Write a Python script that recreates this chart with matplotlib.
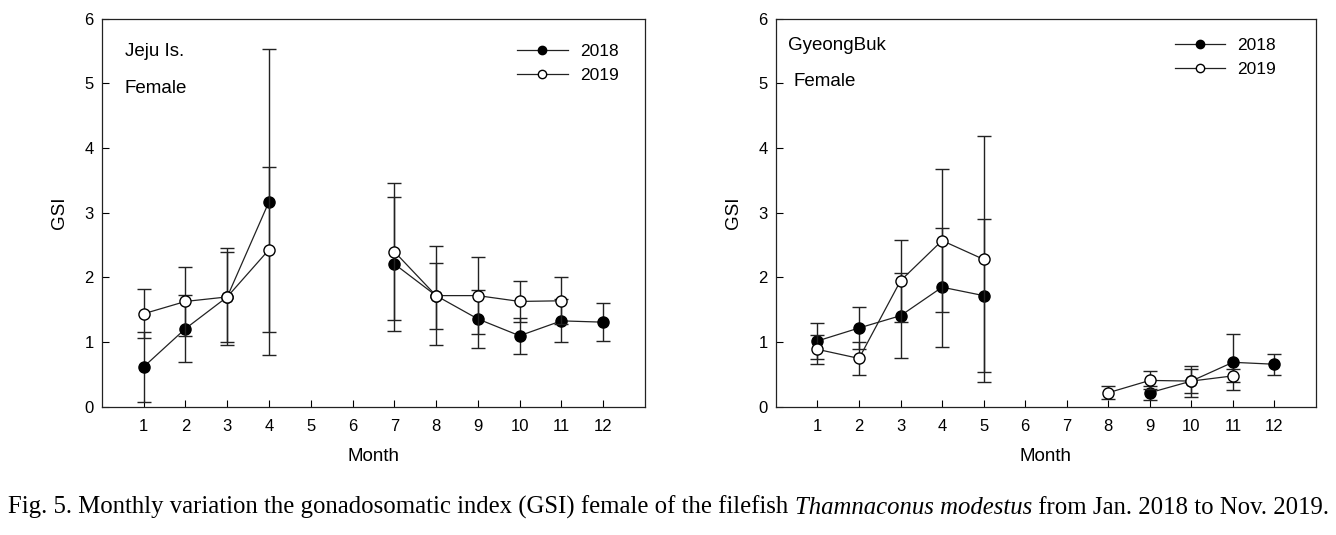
import matplotlib
matplotlib.use("Agg")
import matplotlib.pyplot as plt
from matplotlib.lines import Line2D

plt.rcParams['font.family'] = ['Liberation Sans', 'DejaVu Sans']

# Jeju Is. female GSI (mean, SD)
jeju_m18 = [1, 2, 3, 4, 7, 8, 9, 10, 11, 12]
jeju_gsi18 = [0.62, 1.21, 1.70, 3.17, 2.21, 1.72, 1.36, 1.10, 1.33, 1.31]
jeju_sd18 = [0.54, 0.52, 0.70, 2.36, 1.04, 0.51, 0.45, 0.28, 0.33, 0.29]
jeju_m19 = [1, 2, 3, 4, 7, 8, 9, 10, 11]
jeju_gsi19 = [1.44, 1.63, 1.70, 2.43, 2.40, 1.72, 1.72, 1.63, 1.64]
jeju_sd19 = [0.38, 0.53, 0.75, 1.27, 1.06, 0.77, 0.60, 0.31, 0.36]

# GyeongBuk female GSI (mean, SD)
gb_m18 = [1, 2, 3, 4, 5, 9, 10, 11, 12]
gb_gsi18 = [1.02, 1.22, 1.41, 1.85, 1.72, 0.22, 0.40, 0.69, 0.66]
gb_sd18 = [0.28, 0.32, 0.66, 0.92, 1.18, 0.11, 0.24, 0.43, 0.16]
gb_m19 = [1, 2, 3, 4, 5, 8, 9, 10, 11]
gb_gsi19 = [0.89, 0.75, 1.95, 2.57, 2.28, 0.22, 0.41, 0.40, 0.48]
gb_sd19 = [0.22, 0.26, 0.63, 1.11, 1.90, 0.10, 0.14, 0.19, 0.10]

months = list(range(1, 13))


def draw_series(ax, m, v, sd, face):
    # contiguous runs are joined, gaps (missing months) break the line
    runs, cur = [], [0]
    for i in range(1, len(m)):
        if m[i] - m[i - 1] == 1:
            cur.append(i)
        else:
            runs.append(cur)
            cur = [i]
    runs.append(cur)
    for r in runs:
        ax.errorbar([m[i] for i in r], [v[i] for i in r], yerr=[sd[i] for i in r],
                    fmt='-o', color='#222222', lw=0.9, elinewidth=1.0, capsize=5,
                    capthick=1.0, ms=8, mfc=face, mec='black', mew=1.0,
                    zorder=3 if face == 'white' else 2)


def panel(ax, title1, title2, pos1, pos2, data, leg_anchor):
    m18, g18, s18, m19, g19, s19 = data
    draw_series(ax, m18, g18, s18, 'black')
    draw_series(ax, m19, g19, s19, 'white')
    ax.set_xlim(0, 13)
    ax.set_ylim(0, 6)
    ax.set_xticks(months)
    ax.set_yticks(range(0, 7))
    ax.tick_params(direction='in', length=5, width=0.8, labelsize=12)
    ax.tick_params(axis='x', pad=9)
    ax.tick_params(axis='y', pad=6)
    for s in ax.spines.values():
        s.set_linewidth(0.9)
        s.set_color('#222222')
    ax.set_xlabel('Month', fontsize=13.5, labelpad=10)
    ax.set_ylabel('GSI', fontsize=13.5, labelpad=12)
    ax.text(pos1[0], pos1[1], title1, transform=ax.transAxes, fontsize=13.5, va='center')
    ax.text(pos2[0], pos2[1], title2, transform=ax.transAxes, fontsize=13.5, va='center')
    h = [Line2D([], [], color='#222222', lw=0.9, marker='o', ms=6, mfc='black', mec='black'),
         Line2D([], [], color='#222222', lw=0.9, marker='o', ms=6, mfc='white', mec='black')]
    ax.legend(h, ['2018', '2019'], loc='upper right', bbox_to_anchor=leg_anchor, frameon=False,
              fontsize=12.5, handlelength=2.9, labelspacing=0.5, handletextpad=0.7)


fig = plt.figure(figsize=(13.36, 5.35), dpi=100)
ax1 = fig.add_axes([0.0763, 0.2393, 0.4064, 0.7261])
ax2 = fig.add_axes([0.5808, 0.2393, 0.4042, 0.7261])

panel(ax1, 'Jeju Is.', 'Female', (0.042, 0.915), (0.042, 0.82),
      (jeju_m18, jeju_gsi18, jeju_sd18, jeju_m19, jeju_gsi19, jeju_sd19), (0.98, 0.975))
panel(ax2, 'GyeongBuk', 'Female', (0.022, 0.93), (0.032, 0.838),
      (gb_m18, gb_gsi18, gb_sd18, gb_m19, gb_gsi19, gb_sd19), (0.955, 0.99))

fs = 17.8
yb = 0.04
cap = fig.text(0.006, yb, 'Fig. 5. Monthly variation the gonadosomatic index (GSI) female of the filefish ',
               family=['Liberation Serif'], fontsize=fs, va='baseline')
fig.canvas.draw()
bb = cap.get_window_extent()
it = fig.text(bb.x1 / fig.bbox.width, yb, 'Thamnaconus modestus', family=['Liberation Serif'],
              style='italic', fontsize=fs, va='baseline')
bb = it.get_window_extent()
fig.text(bb.x1 / fig.bbox.width, yb, ' from Jan. 2018 to Nov. 2019.',
         family=['Liberation Serif'], fontsize=fs, va='baseline')

fig.savefig('out.png', dpi=100)
